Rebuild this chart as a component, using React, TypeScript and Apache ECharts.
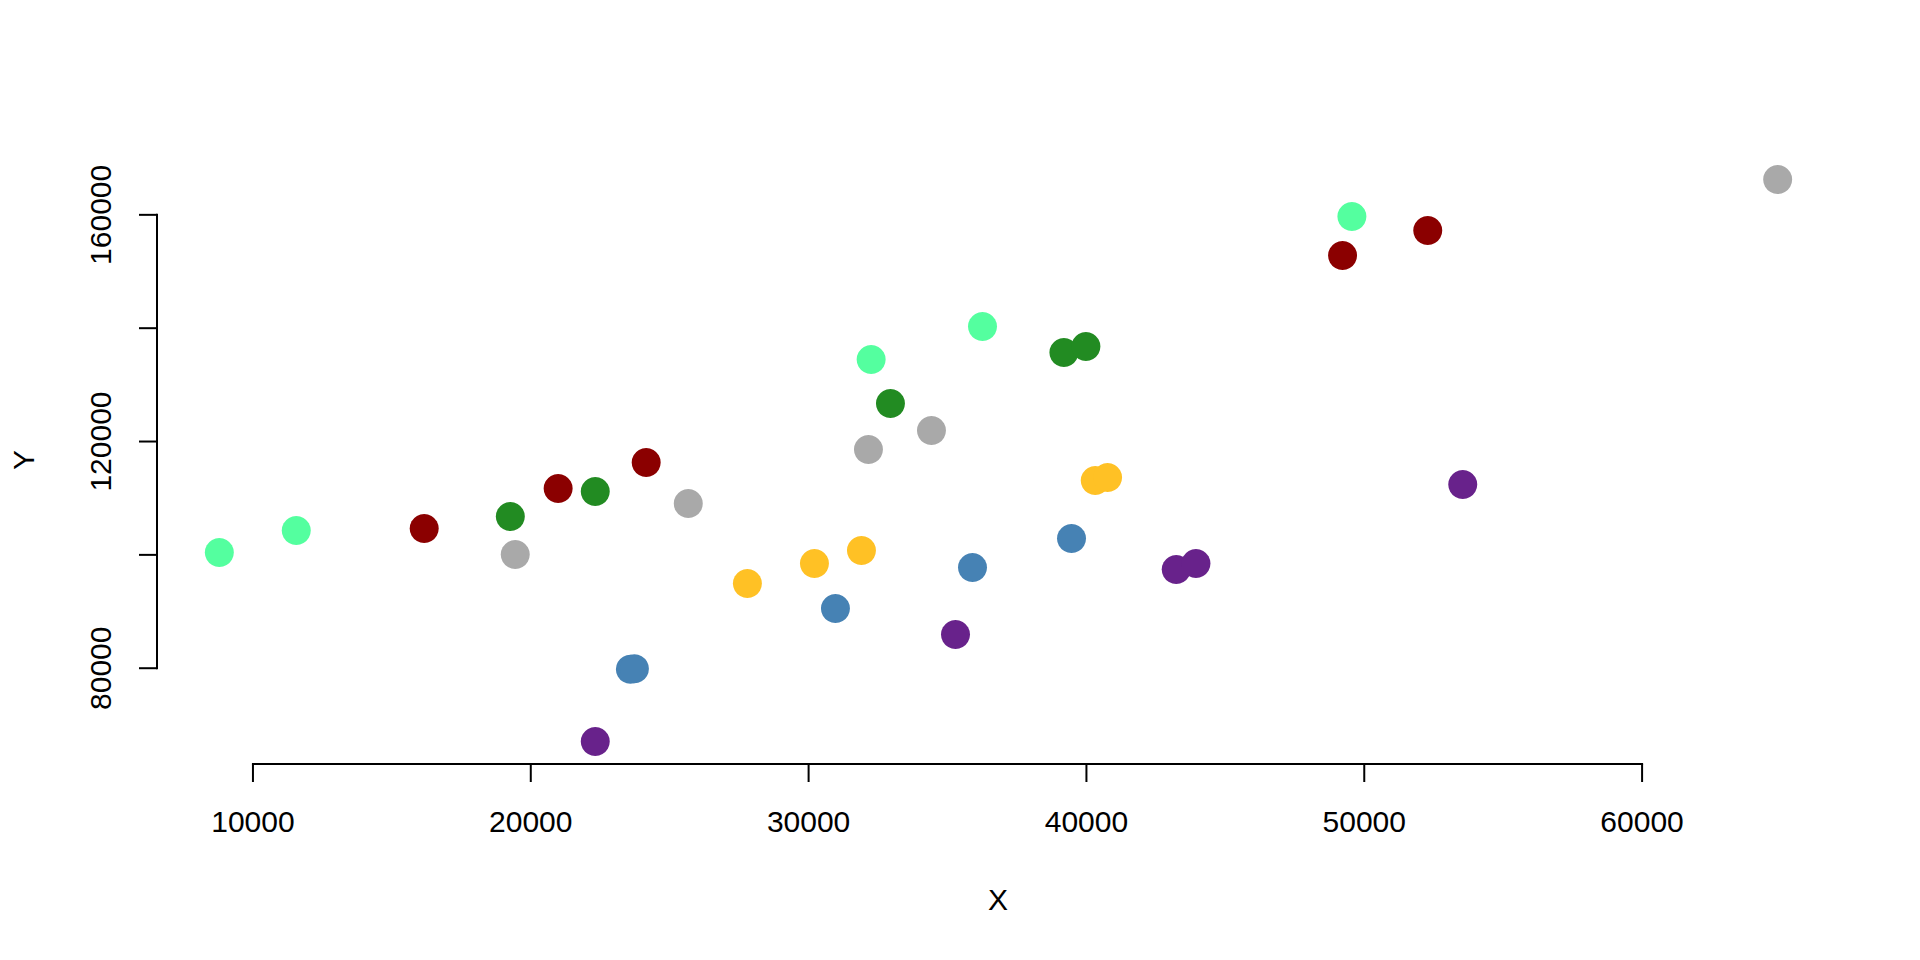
import React, { useEffect, useRef } from "react";
import * as echarts from "echarts";

// ---- data ----
const groupNames = ["A", "B", "C", "D", "E", "F", "G"];
const groupColors = ["#54FF9F", "#8B0000", "#228B22", "#A9A9A9", "#FFC125", "#4682B4", "#68228B"];

const lightGreenX = [8790, 11559, 32251, 36259, 49555];
const lightGreenY = [100416, 104298, 134474, 140296, 159707];
const darkRedX = [16164, 20985, 24154, 49219, 52285];
const darkRedY = [104651, 111710, 116297, 152826, 157237];
const forestGreenX = [19264, 22321, 32946, 39189, 39981];
const forestGreenY = [106769, 111181, 126710, 135709, 136767];
const grayX = [19441, 25669, 32154, 34422, 64880];
const grayY = [100063, 109063, 118592, 121945, 166240];
const yellowX = [27797, 30210, 31902, 40317, 40761];
const yellowY = [94946, 98475, 100770, 113122, 113652];
const blueX = [23585, 23730, 30966, 35899, 39463];
const blueY = [79824, 79900, 90535, 97770, 102887];
const purpleX = [22321, 35287, 43232, 43942, 53545];
const purpleY = [67065, 85947, 97417, 98475, 112416];

const xTicks = [10000, 20000, 30000, 40000, 50000, 60000];
const yTicks = [80000, 100000, 120000, 140000, 160000];
const yLabelValues = [80000, 120000, 160000];

const xTitle = "X";
const yTitle = "Y";

const groupsX = [lightGreenX, darkRedX, forestGreenX, grayX, yellowX, blueX, purpleX];
const groupsY = [lightGreenY, darkRedY, forestGreenY, grayY, yellowY, blueY, purpleY];

const FONT = "30px 'Liberation Sans', Arial, sans-serif";
const TICK = 18;
const LABEL_GAP = 57;

export default function App() {
  const ref = useRef<HTMLDivElement>(null);

  useEffect(() => {
    if (!ref.current) return;
    const chart = echarts.init(ref.current, null, { renderer: "svg" });

    const allX = groupsX.flat();
    const allY = groupsY.flat();
    const xMinD = Math.min(...allX), xMaxD = Math.max(...allX);
    const yMinD = Math.min(...allY), yMaxD = Math.max(...allY);
    const xLo = xMinD - 0.04 * (xMaxD - xMinD);
    const xHi = xMaxD + 0.04 * (xMaxD - xMinD);
    const yLo = yMinD - 0.04 * (yMaxD - yMinD);
    const yHi = yMaxD + 0.04 * (yMaxD - yMinD);

    const scatterSeries = groupNames.map((name, gi) => ({
      type: "scatter",
      name,
      data: groupsX[gi].map((x, i) => [x, groupsY[gi][i]]),
      symbol: "circle",
      symbolSize: 29,
      itemStyle: { color: groupColors[gi], opacity: 1 },
      emphasis: { disabled: true },
      z: 3,
    }));

    const lineStyle = { stroke: "#000", lineWidth: 2 };

    const xAxisSeries = {
      type: "custom",
      coordinateSystem: "cartesian2d",
      silent: true,
      clip: false,
      data: xTicks.map((v) => [v, yLo]),
      encode: { x: 0, y: 1 },
      z: 2,
      renderItem: (params: any, api: any) => {
        const v = api.value(0);
        const p = api.coord([v, yLo]);
        const children: any[] = [
          { type: "line", shape: { x1: p[0], y1: p[1], x2: p[0], y2: p[1] + TICK }, style: lineStyle },
          {
            type: "text",
            x: p[0],
            y: p[1] + LABEL_GAP,
            style: { text: String(v), font: FONT, fill: "#000", align: "center", verticalAlign: "middle" },
          },
        ];
        if (params.dataIndex === 0) {
          const p2 = api.coord([xTicks[xTicks.length - 1], yLo]);
          children.push({ type: "line", shape: { x1: p[0] - 1, y1: p[1], x2: p2[0] + 1, y2: p2[1] }, style: lineStyle });
        }
        return { type: "group", children };
      },
    };

    const yAxisSeries = {
      type: "custom",
      coordinateSystem: "cartesian2d",
      silent: true,
      clip: false,
      data: yTicks.map((v) => [xLo, v]),
      encode: { x: 0, y: 1 },
      z: 2,
      renderItem: (params: any, api: any) => {
        const v = api.value(1);
        const p = api.coord([xLo, v]);
        const children: any[] = [
          { type: "line", shape: { x1: p[0], y1: p[1], x2: p[0] - TICK, y2: p[1] }, style: lineStyle },
        ];
        if (yLabelValues.indexOf(v) >= 0) {
          children.push({
            type: "text",
            x: p[0] - LABEL_GAP,
            y: p[1],
            rotation: Math.PI / 2,
            style: { text: String(v), font: FONT, fill: "#000", align: "center", verticalAlign: "middle" },
          });
        }
        if (params.dataIndex === 0) {
          const p2 = api.coord([xLo, yTicks[yTicks.length - 1]]);
          children.push({ type: "line", shape: { x1: p[0], y1: p[1] + 1, x2: p2[0], y2: p2[1] - 1 }, style: lineStyle });
        }
        return { type: "group", children };
      },
    };

    chart.setOption({
      animation: false,
      backgroundColor: "#ffffff",
      grid: { left: 157, right: 80, top: 157, bottom: 196, containLabel: false },
      xAxis: { type: "value", min: xLo, max: xHi, show: false },
      yAxis: { type: "value", min: yLo, max: yHi, show: false },
      series: [xAxisSeries, yAxisSeries, ...scatterSeries],
      graphic: [
        {
          type: "text",
          x: 998,
          y: 899,
          style: { text: xTitle, font: FONT, fill: "#000", align: "center", verticalAlign: "middle", textAlign: "center", textVerticalAlign: "middle" },
        },
        {
          type: "text",
          x: 23,
          y: 460,
          rotation: Math.PI / 2,
          style: { text: yTitle, font: FONT, fill: "#000", align: "center", verticalAlign: "middle", textAlign: "center", textVerticalAlign: "middle" },
        },
      ],
    });

    return () => chart.dispose();
  }, []);

  return (
    <div
      ref={ref}
      style={{ position: "absolute", left: 0, top: 0, width: 1920, height: 960, background: "#fff" }}
    />
  );
}
